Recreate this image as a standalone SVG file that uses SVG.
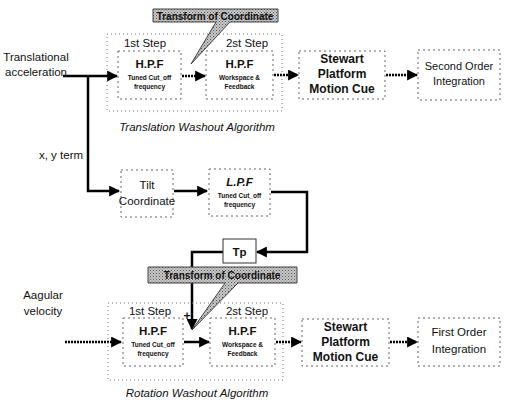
<svg xmlns="http://www.w3.org/2000/svg" width="506" height="404" viewBox="0 0 506 404">
<defs>
<marker id="ah" viewBox="0 0 10 10" refX="9" refY="5" markerWidth="11" markerHeight="11" markerUnits="userSpaceOnUse" orient="auto">
<path d="M0,0 L10,5 L0,10 z" fill="#000"/>
</marker>
<pattern id="stip" width="3" height="3" patternUnits="userSpaceOnUse">
<rect width="3" height="3" fill="#c8c8c8"/>
<rect x="0" y="0" width="1" height="1" fill="#555"/>
<rect x="1.5" y="1.5" width="1" height="1" fill="#777"/>
</pattern>
<style>
.lbl{font-family:"Liberation Sans",Arial,sans-serif;fill:#111;}
.t{font-size:11.5px;}
.b{font-weight:bold;}
.bx{fill:#fff;stroke:#666;stroke-width:1;stroke-dasharray:2,3;}
.grp{fill:none;stroke:#777;stroke-width:1;stroke-dasharray:1,3;}
.ln{fill:none;stroke:#000;stroke-width:2.5;}
.dl{fill:none;stroke:#000;stroke-width:2.5;stroke-dasharray:2,1;}
.hd{font-size:11.5px;font-weight:bold;}
.sm{font-size:6.5px;font-weight:bold;}
.big{font-size:12px;font-weight:bold;}
.cal{fill:url(#stip);stroke:#444;stroke-width:1;}
</style>
</defs>
<rect width="506" height="404" fill="#fff"/>

<g id="connectors">
<path class="ln" d="M63,76 H117" marker-end="url(#ah)"/>
<path class="ln" d="M88,76 V191 H119" marker-end="url(#ah)"/>
<path class="dl" d="M182,76 H205" marker-end="url(#ah)"/>
<path class="dl" d="M274,75 H298" marker-end="url(#ah)"/>
<path class="dl" d="M386,75 H417" marker-end="url(#ah)"/>
<path class="ln" d="M174,191 H207" marker-end="url(#ah)"/>
<path class="ln" d="M271,192 H307 V252 H257" marker-end="url(#ah)"/>
<path class="ln" d="M223,252 H192 V329" marker-end="url(#ah)"/>
<path class="dl" d="M65,342 H121" marker-end="url(#ah)"/>
<path class="ln" d="M184,342 H209" marker-end="url(#ah)"/>
<path class="dl" d="M276,342 H301" marker-end="url(#ah)"/>
<path class="dl" d="M390,342 H417" marker-end="url(#ah)"/>
</g>

<g id="input-translational">
<text class="lbl t" x="36" y="61" text-anchor="middle">Translational</text>
<text class="lbl t" x="36" y="76" text-anchor="middle">acceleration</text>
</g>
<g id="xy-term"><text class="lbl t" x="61" y="159" text-anchor="middle">x, y term</text></g>

<g id="translation-group">
<rect class="grp" x="107" y="34" width="175" height="77"/>
<text class="lbl t" x="145" y="47" text-anchor="middle">1st Step</text>
<text class="lbl t" x="247" y="47" text-anchor="middle">2st Step</text>
<text class="lbl t" x="197" y="131" text-anchor="middle" font-style="italic">Translation Washout Algorithm</text>
</g>
<g id="t-hpf1">
<rect class="bx" x="118" y="51" width="63" height="48"/>
<text class="lbl hd" x="149.5" y="68" text-anchor="middle">H.P.F</text>
<text class="lbl sm" x="149.5" y="80" text-anchor="middle">Tuned Cut_off</text>
<text class="lbl sm" x="149.5" y="89" text-anchor="middle">frequency</text>
</g>
<g id="t-hpf2">
<rect class="bx" x="206" y="51" width="67" height="48"/>
<text class="lbl hd" x="239.5" y="68" text-anchor="middle">H.P.F</text>
<text class="lbl sm" x="239.5" y="80" text-anchor="middle">Workspace &amp;</text>
<text class="lbl sm" x="239.5" y="89" text-anchor="middle">Feedback</text>
</g>
<g id="t-stewart">
<rect class="bx" x="299" y="51" width="86" height="48"/>
<text class="lbl big" x="342" y="63" text-anchor="middle">Stewart</text>
<text class="lbl big" x="342" y="78" text-anchor="middle">Platform</text>
<text class="lbl big" x="342" y="93" text-anchor="middle">Motion Cue</text>
</g>
<g id="t-integration">
<rect class="bx" x="418" y="50" width="82" height="50"/>
<text class="lbl" x="459" y="70" text-anchor="middle" font-size="11">Second Order</text>
<text class="lbl" x="459" y="85" text-anchor="middle" font-size="11">Integration</text>
</g>
<g id="callout-top">
<path class="cal" d="M153,9 H278 V22 H230 L191,64 L216,22 H153 Z"/>
<text class="lbl" x="215" y="19.5" text-anchor="middle" font-size="10" font-weight="bold">Transform of Coordinate</text>
</g>

<g id="tilt">
<rect class="bx" x="121" y="170" width="52" height="47"/>
<text class="lbl t" x="147" y="189" text-anchor="middle">Tilt</text>
<text class="lbl t" x="147" y="205" text-anchor="middle">Coordinate</text>
</g>
<g id="lpf">
<rect class="bx" x="209" y="169" width="61" height="47"/>
<text class="lbl hd" x="239.5" y="186" text-anchor="middle" font-style="italic">L.P.F</text>
<text class="lbl sm" x="239.5" y="198" text-anchor="middle">Tuned Cut_off</text>
<text class="lbl sm" x="239.5" y="207" text-anchor="middle">frequency</text>
</g>
<g id="tp">
<rect x="223" y="239" width="33" height="24" fill="#fff" stroke="#333" stroke-width="1"/>
<text class="lbl hd" x="239.5" y="256" text-anchor="middle">Tp</text>
</g>
<g id="callout-bottom">
<path class="cal" d="M148,267 H297 V283 H238 L192,330 L225,283 H148 Z"/>
<text class="lbl" x="222" y="279" text-anchor="middle" font-size="10" font-weight="bold">Transform of Coordinate</text>
</g>
<g id="plus"><text class="lbl" x="187" y="320" text-anchor="middle" font-size="12" font-weight="bold">+</text></g>

<g id="input-angular">
<text class="lbl t" x="43" y="299" text-anchor="middle">Aagular</text>
<text class="lbl t" x="43" y="315" text-anchor="middle">velocity</text>
</g>
<g id="rotation-group">
<rect class="grp" x="108" y="303" width="175" height="77"/>
<text class="lbl t" x="150" y="315" text-anchor="middle">1st Step</text>
<text class="lbl t" x="247" y="315" text-anchor="middle">2st Step</text>
<text class="lbl t" x="197" y="397" text-anchor="middle" font-style="italic">Rotation Washout Algorithm</text>
</g>
<g id="r-hpf1">
<rect class="bx" x="123" y="318" width="60" height="48"/>
<text class="lbl hd" x="153" y="335" text-anchor="middle">H.P.F</text>
<text class="lbl sm" x="153" y="347" text-anchor="middle">Tuned Cut_off</text>
<text class="lbl sm" x="153" y="356" text-anchor="middle">frequency</text>
</g>
<g id="r-hpf2">
<rect class="bx" x="210" y="318" width="65" height="48"/>
<text class="lbl hd" x="242.5" y="335" text-anchor="middle">H.P.F</text>
<text class="lbl sm" x="242.5" y="347" text-anchor="middle">Workspace &amp;</text>
<text class="lbl sm" x="242.5" y="356" text-anchor="middle">Feedback</text>
</g>
<g id="r-stewart">
<rect class="bx" x="302" y="319" width="87" height="47"/>
<text class="lbl big" x="345.5" y="331" text-anchor="middle">Stewart</text>
<text class="lbl big" x="345.5" y="346" text-anchor="middle">Platform</text>
<text class="lbl big" x="345.5" y="361" text-anchor="middle">Motion Cue</text>
</g>
<g id="r-integration">
<rect class="bx" x="418" y="318" width="82" height="48"/>
<text class="lbl t" x="459" y="336" text-anchor="middle">First Order</text>
<text class="lbl t" x="459" y="353" text-anchor="middle">Integration</text>
</g>
</svg>
